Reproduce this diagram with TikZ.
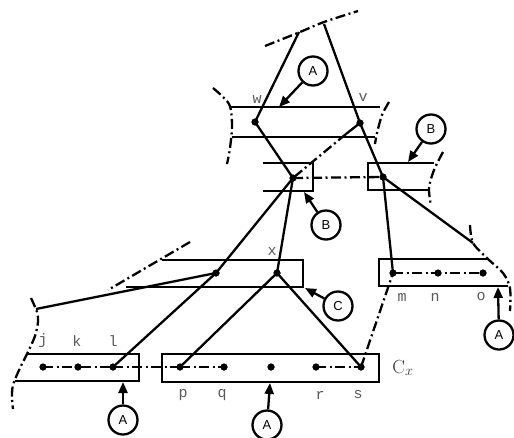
\documentclass[tikz,border=0pt]{standalone}
\usepackage{fontspec}
\setsansfont{Liberation Sans}
\setmonofont{Liberation Mono}
\usetikzlibrary{arrows.meta}
\tikzset{
  ln/.style={line width=2.3pt},
  bx/.style={line width=2.5pt},
  dd/.style={line width=2.3pt, dash pattern=on 10pt off 3.5pt on 2pt off 3.5pt},
  dotpt/.style={circle, fill=black, inner sep=0pt, minimum size=7pt},
  callout/.style={circle, draw, line width=2.3pt, minimum size=29pt, inner sep=0pt,
    font=\sffamily\fontsize{13}{13}\selectfont},
  arr/.style={line width=2.3pt, -{Triangle[length=11pt,width=9pt]}},
  lbl/.style={font=\ttfamily\fontsize{15}{15}\selectfont, text=black!65, inner sep=0pt}
}
\begin{document}
\begin{tikzpicture}[x=1pt,y=-1pt]
\useasboundingbox (0,0) rectangle (514,437);

% points carried by the structure
\node[dotpt] (w)  at (255,122) {};
\node[dotpt] (v)  at (360,123) {};
\node[dotpt] (bl) at (293,178) {};
\node[dotpt] (br) at (383,177) {};
\node[dotpt] (xa) at (216,273) {};
\node[dotpt] (xb) at (277,273) {};
\node[dotpt] (m)  at (393,273) {};
\node[dotpt] (n)  at (438,273) {};
\node[dotpt] (o)  at (483,273) {};
\node[dotpt] (j)  at (43,367) {};
\node[dotpt] (k)  at (78,367) {};
\node[dotpt] (l)  at (113,367) {};
\node[dotpt] (p)  at (180,367) {};
\node[dotpt] (q)  at (224,367) {};
\node[dotpt] (mid) at (271,367) {};
\node[dotpt] (r)  at (316,367) {};
\node[dotpt] (s)  at (361,367) {};

\coordinate (t1) at (299,32);
\coordinate (t2) at (324,24);
\coordinate (vb) at (346,134);
\coordinate (oc) at (473,243);
\coordinate (lc) at (36,309);

% boxes
\draw[bx] (231,107) -- (380,107);
\draw[bx] (232,137) -- (375,137);
\draw[bx] (263,163) -- (313,163) -- (313,191) -- (263,191);
\draw[bx] (434,163) -- (368,163) -- (368,190) -- (428,190);
\draw[bx] (162,260) -- (303,260) -- (303,287) -- (126,287);
\draw[bx] (487,259) -- (379,259) -- (379,286) -- (508,286);
\draw[bx] (28,354) -- (139,354) -- (139,381) -- (15,381);
\draw[bx] (162,354) rectangle (379,382);

% open ends of the boxes
\draw[dd] plot[smooth] coordinates {(265,46) (300,32) (324,22) (358,11)};
\draw[dd] plot[smooth] coordinates {(213,88) (229,104) (232,125) (230,148) (227,164)};
\draw[dd] plot[smooth] coordinates {(389,102) (382,115) (377,133) (375,144)};
\draw[dd] plot[smooth] coordinates {(443,152) (434,170) (429,188) (431,206)};
\draw[dd] plot[smooth] coordinates {(470,225) (473,243) (488,259) (503,273) (510,288) (510,311)};
\draw[dd] plot[smooth] coordinates {(31,298) (37,312) (38,322) (35,336) (28,352) (20,368) (13,385) (12,398) (13,409)};
\draw[dd] (190,242) -- (108,290);

% solid links
\draw[ln] (t1) -- (w.center) -- (bl.center);
\draw[ln] (t2) -- (v.center) -- (br.center);
\draw[ln] (v.center) -- (vb);
\draw[ln] (bl.center) -- (xa.center) -- (l.center);
\draw[ln] (bl.center) -- (xb.center);
\draw[ln] (xb.center) -- (p.center);
\draw[ln] (xb.center) -- (s.center);
\draw[ln] (br.center) -- (m.center);
\draw[ln] (br.center) -- (oc);
\draw[ln] (lc) -- (xa.center);

% dash-dotted links
\draw[dd] (vb) -- (bl.center);
\draw[dd] (bl.center) -- (br.center);
\draw[dd] (s.center) -- (m.center);
\draw[dd] (l.center) -- (p.center);
\draw[dd] (j.center) -- (k.center) -- (l.center);
\draw[dd] (p.center) -- (q.center);
\draw[dd] (r.center) -- (s.center);
\draw[dd] (m.center) -- (n.center) -- (o.center);

% redraw the points on top
\foreach \d in {w,v,bl,br,xa,xb,m,n,o,j,k,l,p,q,mid,r,s}
  \fill (\d) circle (3.5pt);

% letters
\node[lbl] (lw) at (257,100) {w};
\node[lbl] (lv) at (363,98) {v};
\node[lbl] (lx) at (272,252) {x};
\node[lbl] (lj) at (43,341) {j};
\node[lbl] (lk) at (77,341) {k};
\node[lbl] (ll) at (113,341) {l};
\node[lbl] (lm) at (402,297) {m};
\node[lbl] (ln) at (435,297) {n};
\node[lbl] (lo) at (481,297) {o};
\node[lbl] (lp) at (183,395) {p};
\node[lbl] (lq) at (222,395) {q};
\node[lbl] (lr) at (320,395) {r};
\node[lbl] (ls) at (358,395) {s};
\node[inner sep=0pt, text=black!80, font=\fontsize{19}{19}\selectfont] (cx) at (403,368) {$\mathrm{C}_x$};

% callouts
\node[callout] (A1) at (313,71) {A};
\node[callout] (B1) at (431,129) {B};
\node[callout] (B2) at (326,225) {B};
\node[callout] (C1) at (338,306) {C};
\node[callout] (A2) at (499,335) {A};
\node[callout] (A3) at (123,420) {A};
\node[callout] (A4) at (267,425) {A};
\coordinate (a1) at (279,107);
\coordinate (b1) at (408,162);
\coordinate (b2) at (304,192);
\coordinate (c1) at (305,288);
\coordinate (a2) at (498,287);
\coordinate (a3) at (123,382);
\coordinate (a4) at (270,383);
\draw[arr] (A1) -- (a1);
\draw[arr] (B1) -- (b1);
\draw[arr] (B2) -- (b2);
\draw[arr] (C1) -- (c1);
\draw[arr] (A2) -- (a2);
\draw[arr] (A3) -- (a3);
\draw[arr] (A4) -- (a4);
\end{tikzpicture}
\end{document}
